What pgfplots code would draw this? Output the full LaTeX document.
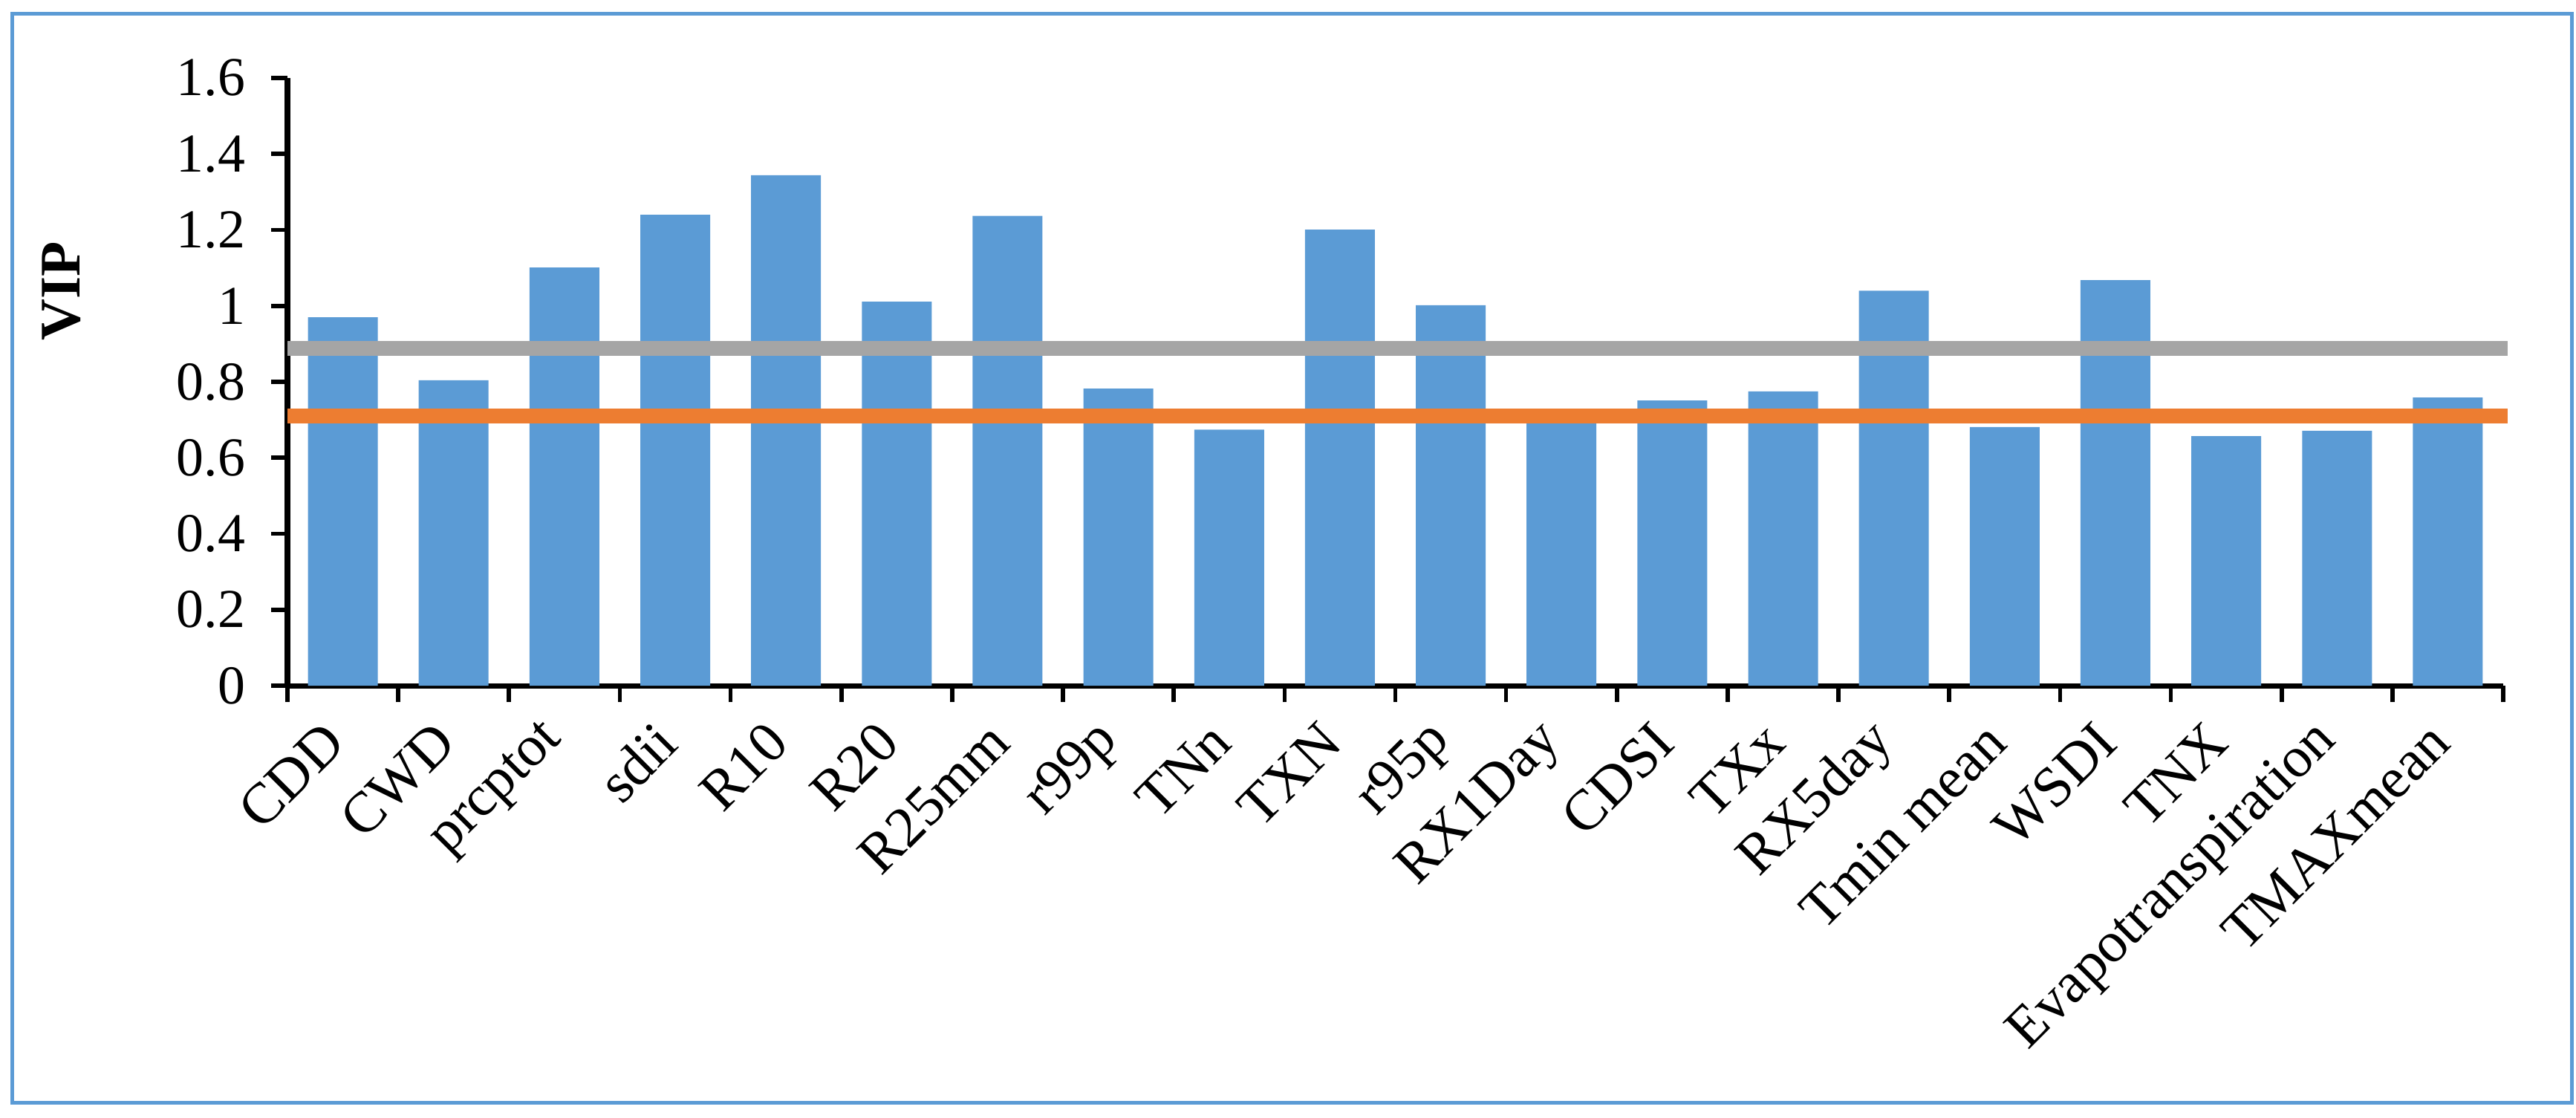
\documentclass[border=0pt]{standalone}
\usepackage{pgfplots}
\pgfplotsset{compat=1.18}
\usepackage{fontspec}
\setmainfont{Liberation Serif}
\definecolor{barblue}{HTML}{5B9BD5}
\definecolor{lineorange}{HTML}{ED7D31}
\definecolor{linegray}{HTML}{A5A5A5}
\begin{document}
\begin{tikzpicture}
\useasboundingbox (-19.35mm,-29.05mm) rectangle (154.05mm,46.15mm);
\draw[barblue, line width=0.25mm] (-18.5mm,-28.05mm) rectangle (153.75mm,45.25mm);
\begin{axis}[
  at={(0,0)}, anchor=south west,
  scale only axis,
  width=149.15mm, height=40.9mm,
  xmin=-0.5, xmax=19.5, ymin=0, ymax=1.6,
  axis x line*=bottom, axis y line*=left,
  axis line style={line width=1pt, black},
  xtick={0,...,19},
  xticklabels={CDD,CWD,prcptot,sdii,R10,R20,R25mm,r99p,TNn,TXN,r95p,RX1Day,CDSI,TXx,RX5day,Tmin mean,WSDI,TNX,Evapotranspiration,TMAXmean},
  minor xtick={-0.5,0.5,...,19.5},
  ytick={0,0.2,...,1.6},
  tick align=outside,
  major tick length=1.1mm, minor tick length=1.1mm,
  major x tick style={draw=none},
  minor x tick style={black, line width=0.8pt},
  major y tick style={black, line width=0.8pt},
  /pgf/number format/assume math mode=true,
  yticklabel style={font=\fontsize{10.5}{12}\selectfont, xshift=-0.5mm},
  xticklabel style={font=\fontsize{11}{13}\selectfont, xshift=0.3mm, yshift=-1.2mm, rotate=45, anchor=east},
  ylabel={\textbf{VIP}},
  ylabel style={font=\fontsize{11}{13}\selectfont, at={(axis description cs:-0.1019,0.649)}, anchor=center},
  clip=false,
]
\addplot[ybar, bar width=4.7mm, fill=barblue, draw=none] coordinates {
(0,0.970) (1,0.804) (2,1.101) (3,1.240) (4,1.344) (5,1.011) (6,1.237) (7,0.782) (8,0.674) (9,1.201)
(10,1.002) (11,0.700) (12,0.751) (13,0.775) (14,1.040) (15,0.681) (16,1.068) (17,0.657) (18,0.671) (19,0.759)
};
\addplot[linegray, line width=1mm] coordinates {(-0.5,0.888) (19.54,0.888)};
\addplot[lineorange, line width=1mm] coordinates {(-0.5,0.710) (19.54,0.710)};
\end{axis}
\end{tikzpicture}
\end{document}
